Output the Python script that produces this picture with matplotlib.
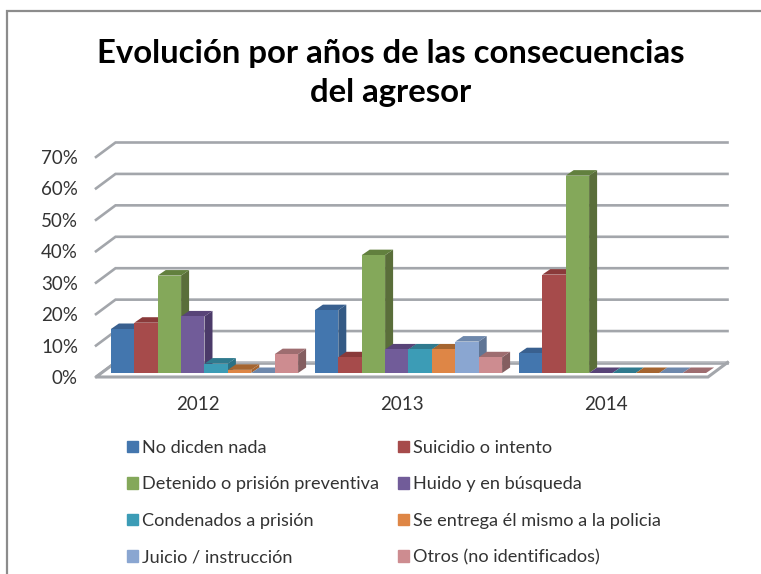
import matplotlib
matplotlib.use('Agg')
import matplotlib.pyplot as plt
from matplotlib.patches import Patch, Rectangle

years = ['2012', '2013', '2014']
y_ticks = [0, 10, 20, 30, 40, 50, 60, 70]
y_labels = ['0%', '10%', '20%', '30%', '40%', '50%', '60%', '70%']
series_names = ['No dicden nada', 'Suicidio o intento', 'Detenido o prisión preventiva', 'Huido y en búsqueda',
                'Condenados a prisión', 'Se entrega él mismo a la policia', 'Juicio / instrucción',
                'Otros (no identificados)']
no_dicen = [14, 20, 6.3]
suicidio = [16, 5, 31.3]
detenido = [31, 37.5, 62.8]
huido = [18, 7.5, 0]
condenados = [3, 7.5, 0]
entrega = [1, 7.5, 0]
juicio = [0, 10, 0]
otros = [6, 5, 0]
series = [no_dicen, suicidio, detenido, huido, condenados, entrega, juicio, otros]

front_cols = ['#4376AE', '#A64B4B', '#84A85A', '#715C99', '#3C9CB6', '#DE8646', '#8AA6D1', '#CD8C90']
side_cols = ['#345A85', '#7F3838', '#5A6E3A', '#4B3A69', '#2A7185', '#A5642F', '#5F7595', '#845E60']
top_cols = ['#39608F', '#8A3A3A', '#62803E', '#584478', '#2F7A8E', '#A56530', '#6E88AC', '#9E6D70']

W, H = 761, 574
fig = plt.figure(figsize=(W / 100, H / 100), dpi=100)
plt.rcParams['font.family'] = ['Lato', 'DejaVu Sans']

# axes = front plane of the fake 3d box
left, right, bottom, top = 96, 708, 377, 157
ax = fig.add_axes([left / W, 1 - bottom / H, (right - left) / W, (bottom - top) / H])
ax.set_xlim(-0.5, 2.5)
ax.set_ylim(0, 70)
ax.patch.set_visible(False)
for s in ax.spines.values():
    s.set_visible(False)

px = 3 / (right - left)  # one pixel in data units
py = 70 / (bottom - top)

# walls
wall_dx, wall_dy = 19.5 * px, 14.5 * py
grid_col = '#A3A6AB'
for v in y_ticks:
    ax.plot([-0.5, -0.5 + wall_dx, 2.5 + wall_dx], [v, v + wall_dy, v + wall_dy], color=grid_col, lw=1.9,
            clip_on=False, solid_joinstyle='miter', zorder=1)
# floor front edge
ax.fill([-0.5, 2.5, 2.5 + wall_dx, -0.5 + wall_dx], [0, 0, wall_dy, wall_dy], color='white', zorder=1.5, clip_on=False)
ax.plot([-0.5 + wall_dx, -0.5, 2.5, 2.5 + wall_dx], [wall_dy, 0, 0, wall_dy], color=grid_col, lw=2.2, clip_on=False,
        solid_joinstyle='miter', zorder=2)
ax.plot([-0.5 + wall_dx, 2.5 + wall_dx], [wall_dy, wall_dy], color=grid_col, lw=1.9, clip_on=False, zorder=1.6)

# bars
bar_w = 23.4 * px
depth_x, depth_y = 8 * px, 5.5 * py
shift_x, shift_y = 6.5 * px, 4 * py
n = len(series)
z = 3
for g in range(len(years)):
    for i in range(n):
        val = series[i][g]
        x0 = g + shift_x + (i - n / 2) * bar_w
        x1 = x0 + bar_w
        y0 = shift_y
        y1 = shift_y + val
        if val > 0:
            ax.fill([x0, x1, x1, x0], [y0, y0, y1, y1], color=front_cols[i], lw=0, zorder=z + 0.2, clip_on=False)
            ax.fill([x1, x1 + depth_x, x1 + depth_x, x1], [y0, y0 + depth_y, y1 + depth_y, y1], color=side_cols[i],
                    lw=0, zorder=z, clip_on=False)
        ax.fill([x0, x1, x1 + depth_x, x0 + depth_x], [y1, y1, y1 + depth_y, y1 + depth_y], color=top_cols[i], lw=0,
                zorder=z + 0.1, clip_on=False)
        z += 0.5

ax.set_xticks(range(len(years)))
ax.set_xticklabels(years, fontsize=13.5, color='#333333')
ax.set_yticks(y_ticks)
ax.set_yticklabels(y_labels, fontsize=13.5, color='#333333')
ax.tick_params(axis='x', length=0, pad=14)
ax.tick_params(axis='y', length=0, pad=13)

fig.text(391 / W, 1 - 73 / H, 'Evolución por años de las consecuencias\ndel agresor', fontsize=23.7,
         fontweight='bold', ha='center', va='center', color='black', linespacing=1.43)

# outer border of the chart area
fig.add_artist(Rectangle((7 / W, -0.1), 1, 1.1 - 11 / H, transform=fig.transFigure, fill=False, edgecolor='#8C8C8C',
                         lw=1.6))

handles = [Patch(color=c) for c in front_cols]
order = list(range(0, n, 2)) + list(range(1, n, 2))
fig.legend([handles[i] for i in order], [series_names[i] for i in order], ncol=2, frameon=False, fontsize=13.05,
           loc='upper left', bbox_to_anchor=(127 / W, 1 - 440 / H), bbox_transform=fig.transFigure, handlelength=0.6,
           handleheight=0.6, handletextpad=0.22, labelspacing=1.13, columnspacing=1.08, borderpad=0, borderaxespad=0,
           labelcolor='#333333')

fig.savefig('out.png', dpi=100)
